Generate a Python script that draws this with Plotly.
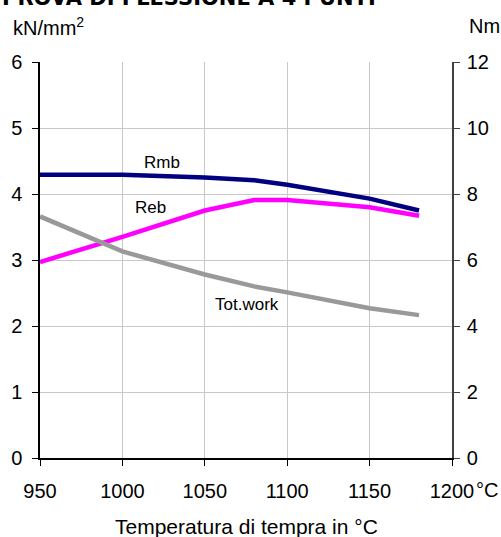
import plotly.graph_objects as go

temps = [950, 1000, 1050, 1080, 1100, 1120, 1150, 1180]
rmb = [4.29, 4.29, 4.25, 4.21, 4.14, 4.06, 3.93, 3.75]
reb_temps = [950, 1000, 1050, 1080, 1100, 1150, 1180]
reb = [2.97, 3.35, 3.75, 3.91, 3.91, 3.80, 3.67]
work_temps = [950, 1000, 1050, 1080, 1100, 1150, 1180]
work = [7.32, 6.26, 5.56, 5.20, 5.02, 4.54, 4.33]

x_ticks = [950, 1000, 1050, 1100, 1150, 1200]
y_ticks = [0, 1, 2, 3, 4, 5, 6]
y2_ticks = [0, 2, 4, 6, 8, 10, 12]

FONT = "Liberation Sans, Arial, sans-serif"

fig = go.Figure()
fig.add_trace(go.Scatter(x=temps, y=rmb, mode="lines", name="Rmb",
                         line=dict(color="#000080", width=4.5)))
fig.add_trace(go.Scatter(x=reb_temps, y=reb, mode="lines", name="Reb",
                         line=dict(color="#FF00FF", width=4.5)))
fig.add_trace(go.Scatter(x=work_temps, y=work, mode="lines", name="Tot.work",
                         line=dict(color="#999999", width=4.5), yaxis="y2"))

fig.update_layout(
    width=501, height=537,
    margin=dict(l=40, r=49, t=62, b=79),
    paper_bgcolor="white", plot_bgcolor="white",
    showlegend=False,
    font=dict(family=FONT, color="black", size=20),
    xaxis=dict(range=[950, 1200], tickvals=x_ticks, ticks="outside", ticklen=6,
               tickcolor="black", showline=True, linecolor="black", linewidth=1.5,
               showgrid=True, gridcolor="#c8c8c8", gridwidth=1, zeroline=False,
               tickfont=dict(size=20), ticklabelstandoff=8),
    yaxis=dict(range=[0, 6], tickvals=y_ticks, ticks="outside", ticklen=6,
               tickcolor="black", showline=True, linecolor="black", linewidth=1.5,
               showgrid=True, gridcolor="#c8c8c8", gridwidth=1, zeroline=False,
               tickfont=dict(size=20), ticklabelstandoff=6),
    yaxis2=dict(range=[0, 12], tickvals=y2_ticks, overlaying="y", side="right",
                ticks="outside", ticklen=6, tickcolor="#404040", showline=True,
                linecolor="#404040", linewidth=1.5, showgrid=False, zeroline=False,
                tickfont=dict(size=20), ticklabelstandoff=3),
)

anns = [
    dict(x=1024, y=4.48, text="Rmb", xref="x", yref="y", showarrow=False, font=dict(size=17)),
    dict(x=1017, y=3.80, text="Reb", xref="x", yref="y", showarrow=False, font=dict(size=17)),
    dict(x=1075.5, y=2.33, text="Tot.work", xref="x", yref="y", showarrow=False, font=dict(size=17)),
    dict(x=1.053, y=-0.081, text="°C", xref="paper", yref="paper", xanchor="left",
         yanchor="middle", showarrow=False, font=dict(size=20)),
    dict(x=0.5, y=-0.174, text="Temperatura di tempra in °C", xref="paper", yref="paper",
         xanchor="center", yanchor="middle", showarrow=False, font=dict(size=21)),
    dict(x=-0.07, y=1.09, text="kN/mm<sup>2</sup>", xref="paper", yref="paper",
         xanchor="left", yanchor="middle", showarrow=False, font=dict(size=20)),
    dict(x=1.036, y=1.09, text="Nm", xref="paper", yref="paper",
         xanchor="left", yanchor="middle", showarrow=False, font=dict(size=20)),
    dict(x=-0.097, y=1.126, text="<b>PROVA DI FLESSIONE A 4 PUNTI</b>", xref="paper", yref="paper",
         xanchor="left", yanchor="bottom", showarrow=False,
         font=dict(size=21, family="DejaVu Sans, sans-serif")),
]
fig.update_layout(annotations=anns)

fig.write_html("out.html", config={"displayModeBar": False},
               post_script="document.body.style.margin='0px';document.body.style.overflow='hidden';")
